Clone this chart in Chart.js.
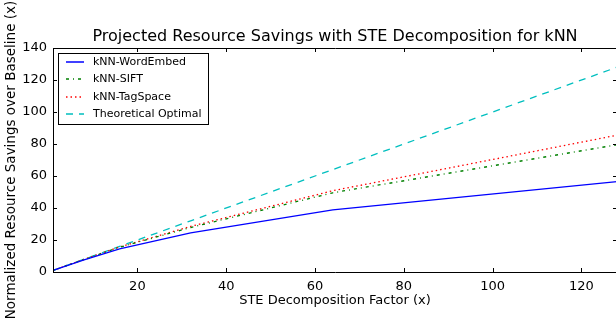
<!DOCTYPE html>
<html>
<head>
<meta charset="utf-8">
<script src="https://cdn.jsdelivr.net/npm/chart.js@4/dist/chart.umd.min.js"></script>
<style>
  html, body { margin: 0; padding: 0; background: #fff; overflow: hidden; }
  #wrap { width: 618px; height: 320px; }
</style>
</head>
<body>
<div id="wrap"><canvas id="c" width="618" height="320"></canvas></div>
<script>
const decompFactors = [1, 2, 4, 8, 16, 32, 64, 128];
const wordEmbed   = [1, 2, 3.9, 7.6, 14.5, 24.5, 38.8, 56.5];
const sift        = [1, 2, 4, 7.8, 15.5, 27.8, 49.5, 79.5];
const tagSpace    = [1, 2, 4, 7.9, 15.7, 28.5, 50.8, 85.5];
const optimal     = [1, 2, 4, 8, 16, 32, 64, 128];
const xTickValues = [20, 40, 60, 80, 100, 120];
const yTickValues = [0, 20, 40, 60, 80, 100, 120, 140];
const seriesNames = ['kNN-WordEmbed', 'kNN-SIFT', 'kNN-TagSpace', 'Theoretical Optimal'];
const chartTitle = 'Projected Resource Savings with STE Decomposition for kNN';

const FONT = 'DejaVu Sans';
const toXY = arr => arr.map((v, i) => ({ x: decompFactors[i], y: v }));

const styles = [
  { color: '#0000ff', dash: [] },
  { color: '#008000', dash: [3, 4, 1, 4] },
  { color: '#ff0000', dash: [1.5, 3] },
  { color: '#00bfbf', dash: [7, 6] }
];
const seriesData = [wordEmbed, sift, tagSpace, optimal];

const datasets = seriesData.map((d, i) => ({
  label: seriesNames[i],
  data: toXY(d),
  borderColor: styles[i].color,
  borderDash: styles[i].dash,
  borderWidth: 1.3,
  pointRadius: 0,
  tension: 0,
  fill: false
}));

const framePlugin = {
  id: 'frame',
  afterDraw(chart) {
    const { ctx, chartArea: a, scales } = chart;
    ctx.save();
    // title
    ctx.fillStyle = '#000';
    ctx.font = '16px "' + FONT + '"';
    ctx.textAlign = 'center';
    ctx.textBaseline = 'middle';
    ctx.fillText(chartTitle, (a.left + a.right) / 2, 37);

    ctx.strokeStyle = '#000';
    ctx.lineWidth = 1;
    ctx.setLineDash([]);
    ctx.beginPath();
    const L = 4;
    scales.x.ticks.forEach(t => {
      const px = Math.round(scales.x.getPixelForValue(t.value)) + 0.5;
      ctx.moveTo(px, a.bottom); ctx.lineTo(px, a.bottom - L);
      ctx.moveTo(px, a.top); ctx.lineTo(px, a.top + L);
    });
    scales.y.ticks.forEach(t => {
      const py = Math.round(scales.y.getPixelForValue(t.value)) + 0.5;
      ctx.moveTo(a.left, py); ctx.lineTo(a.left + L, py);
      ctx.moveTo(a.right, py); ctx.lineTo(a.right - L, py);
    });
    ctx.stroke();
    ctx.beginPath();
    ctx.rect(Math.round(a.left) + 0.5, Math.round(a.top) + 0.5,
             Math.round(a.right - a.left), Math.round(a.bottom - a.top));
    ctx.stroke();

    // legend
    const bx = 58.5, by = 53.5, bw = 150, bh = 71;
    ctx.fillStyle = '#fff';
    ctx.fillRect(bx, by, bw, bh);
    ctx.strokeStyle = '#000';
    ctx.strokeRect(bx, by, bw, bh);
    ctx.font = '11px "' + FONT + '"';
    ctx.textBaseline = 'middle';
    ctx.textAlign = 'left';
    seriesNames.forEach((name, i) => {
      const y = Math.round(62 + i * 17.4);
      ctx.save();
      ctx.strokeStyle = styles[i].color;
      ctx.lineWidth = 1.5;
      ctx.setLineDash(styles[i].dash);
      ctx.beginPath();
      ctx.moveTo(66, y);
      ctx.lineTo(84, y);
      ctx.stroke();
      ctx.restore();
      ctx.fillStyle = '#000';
      ctx.fillText(name, 93, y + 0.5);
    });
    ctx.restore();
  }
};

new Chart(document.getElementById('c'), {
  type: 'line',
  data: { datasets },
  plugins: [framePlugin],
  options: {
    responsive: false,
    animation: false,
    devicePixelRatio: 1,
    layout: { padding: { left: 0, right: 1, top: 48, bottom: 0 } },
    plugins: {
      legend: { display: false },
      tooltip: { enabled: false },
      title: { display: false }
    },
    scales: {
      x: {
        type: 'linear',
        min: 1,
        max: 128,
        grid: { display: false, drawTicks: false },
        border: { display: false },
        afterBuildTicks(scale) { scale.ticks = xTickValues.map(v => ({ value: v })); },
        afterFit(scale) { scale.height = 48; },
        ticks: {
          color: '#000',
          padding: 7,
          maxRotation: 0,
          autoSkip: false,
          font: { family: FONT, size: 13 }
        },
        title: {
          display: true,
          text: 'STE Decomposition Factor (x)',
          color: '#000',
          font: { family: FONT, size: 13, lineHeight: 1.2 },
          padding: { top: 0, bottom: 12 }
        }
      },
      y: {
        type: 'linear',
        min: 0,
        max: 140,
        grid: { display: false, drawTicks: false },
        border: { display: false },
        afterBuildTicks(scale) { scale.ticks = yTickValues.map(v => ({ value: v })); },
        afterFit(scale) { scale.width = 53; },
        ticks: {
          color: '#000',
          padding: 6,
          autoSkip: false,
          font: { family: FONT, size: 13 }
        },
        title: {
          display: true,
          text: 'Normalized Resource Savings over Baseline (x)',
          color: '#000',
          font: { family: FONT, size: 13.5, lineHeight: 1.2 },
          padding: { top: 3, bottom: 0 }
        }
      }
    }
  }
});
</script>
</body>
</html>
